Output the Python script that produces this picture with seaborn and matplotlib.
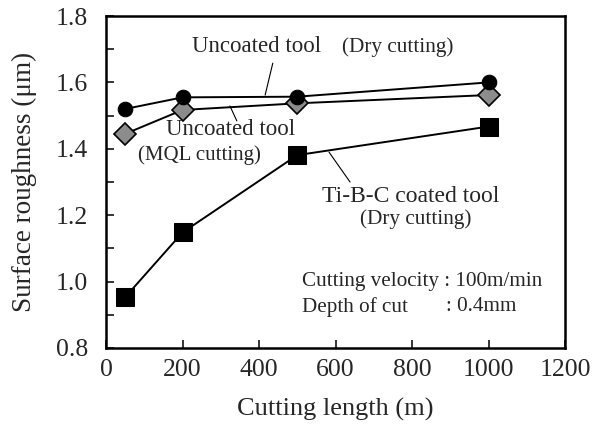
import seaborn as sns
import matplotlib.pyplot as plt
import pandas as pd
from matplotlib.ticker import MultipleLocator

sns.set_style("ticks")
plt.rcParams['font.family'] = ['Liberation Serif', 'DejaVu Serif']

# ---------------------------
# data
# ---------------------------
cutting_length = [50, 200, 500, 1000]
uncoated_dry = [1.52, 1.555, 1.557, 1.60]
uncoated_mql = [1.445, 1.517, 1.537, 1.562]
tibc_dry = [0.953, 1.148, 1.381, 1.467]

df = pd.DataFrame({"length": cutting_length, "dry": uncoated_dry,
                   "mql": uncoated_mql, "tibc": tibc_dry})

fig = plt.figure(figsize=(5.97, 4.26), dpi=100)
ax = fig.add_axes([0.1776, 0.1831, 0.7688, 0.7793])

sns.lineplot(data=df, x="length", y="tibc", ax=ax, color="black", lw=1.4,
             marker="s", markersize=12.5, markerfacecolor="black", markeredgecolor="black")
sns.lineplot(data=df, x="length", y="mql", ax=ax, color="black", lw=1.4,
             marker="D", markersize=11, markerfacecolor="#8c8c8c", markeredgecolor="black",
             markeredgewidth=1.2)
sns.lineplot(data=df, x="length", y="dry", ax=ax, color="black", lw=1.4,
             marker="o", markersize=10.5, markerfacecolor="black", markeredgecolor="black")

ax.set_xlim(0, 1200)
ax.set_ylim(0.8, 1.8)
ax.xaxis.set_major_locator(MultipleLocator(200))
ax.yaxis.set_major_locator(MultipleLocator(0.2))
ax.yaxis.set_minor_locator(MultipleLocator(0.1))
ax.yaxis.set_major_formatter(plt.FormatStrFormatter("%.1f"))
ax.tick_params(which="both", direction="in", length=6, width=1.3, labelsize=18.5,
               top=False, right=False)
ax.tick_params(axis="y", which="both", pad=13)
ax.tick_params(axis="x", which="both", pad=8)
for s in ax.spines.values():
    s.set_linewidth(1.8)
    s.set_color("black")

ax.set_xlabel("Cutting length (m)", fontsize=19)
ax.set_ylabel("Surface roughness (μm)", fontsize=19.5)
ax.xaxis.set_label_coords(0.5, -0.151)
ax.yaxis.set_label_coords(-0.150, 0.5)

# annotations
ax.text(225, 1.707, "Uncoated tool", fontsize=16.5, va="center")
ax.text(617, 1.707, "(Dry cutting)", fontsize=15.3, va="center")
ax.plot([436, 416], [1.658, 1.562], color="black", lw=0.8)

ax.text(157, 1.457, "Uncoated tool", fontsize=16.5, va="center")
ax.text(84, 1.381, "(MQL cutting)", fontsize=15, va="center")
ax.plot([324, 342], [1.529, 1.484], color="black", lw=0.8)

ax.text(565, 1.255, "Ti-B-C coated tool", fontsize=17, va="center")
ax.text(664, 1.188, "(Dry cutting)", fontsize=15.3, va="center")
ax.plot([583, 638], [1.390, 1.300], color="black", lw=0.8)

ax.text(512, 0.999, "Cutting velocity : 100m/min", fontsize=15.2, va="center")
ax.text(512, 0.924, "Depth of cut", fontsize=15.2, va="center")
ax.text(889, 0.924, ": 0.4mm", fontsize=15.2, va="center")

fig.savefig("out.png", dpi=100)
